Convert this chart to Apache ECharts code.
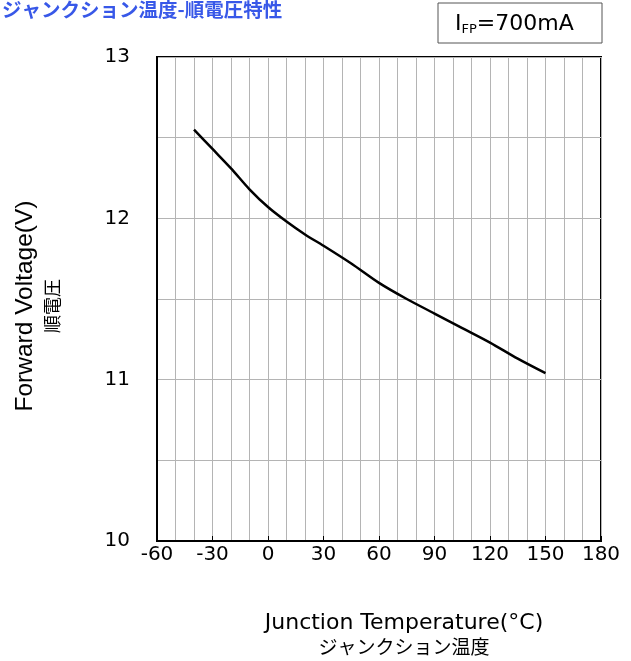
<!DOCTYPE html>
<html><head><meta charset="utf-8">
<script src="https://cdn.jsdelivr.net/npm/echarts@6/dist/echarts.min.js"></script>
<style>html,body{margin:0;padding:0;background:#fff}#c{width:631px;height:661px}</style>
</head><body><div id="c"></div>
<script>
const temps = [-40, -30, -20, -10, 0, 10, 20, 30, 45, 60, 75, 90, 105, 120, 135, 150];
const voltages = [12.55, 12.43, 12.31, 12.18, 12.07, 11.98, 11.90, 11.83, 11.72, 11.60, 11.50, 11.41, 11.32, 11.23, 11.13, 11.04];
const xTicks = [-60, -30, 0, 30, 60, 90, 120, 150, 180];
const yTicks = [10, 11, 12, 13];
const titleText = 'ジャンクション温度-順電圧特性';
const conditionText = '{i|I}{s|FP}{i|=700mA}';

const chart = echarts.init(document.getElementById('c'));
const grid = '#b4b4b4';
chart.setOption({
  animation: false,
  title: [
    { text: titleText, left: -3, top: -5,
      textStyle: { color: '#3858e8', fontSize: 19.5, fontWeight: 'bold', fontFamily: 'Noto Sans CJK JP' } },
    { text: conditionText, left: 455, top: 13, padding: 0,
      textStyle: { fontWeight: 'normal', rich: {
        i: { fontFamily: 'DejaVu Sans', fontSize: 22, fontWeight: 'normal', color: '#000' },
        s: { fontFamily: 'DejaVu Sans', fontSize: 13, fontWeight: 'normal', color: '#000', verticalAlign: 'bottom', padding: [10, 0, 0, 0] }
      } } }
  ],
  graphic: [{ type: 'rect', shape: { x: 438, y: 3, width: 164, height: 40 },
    style: { fill: 'none', stroke: '#555', lineWidth: 1 }, z: 10 }],
  grid: { left: 157, right: 30, top: 57, bottom: 120, outerBoundsMode: 'none', containLabel: false,
    show: true, borderColor: '#000', borderWidth: 2, backgroundColor: 'transparent' },
  xAxis: {
    type: 'value', min: xTicks[0], max: xTicks[xTicks.length - 1], interval: 30,
    name: '{a|Junction Temperature(°C)}\n{b|ジャンクション温度}',
    nameLocation: 'middle', nameGap: 70,
    nameTextStyle: { padding: [0, 0, 0, 50], lineHeight: 24, rich: {
      a: { fontFamily: 'DejaVu Sans', fontSize: 22, color: '#000', lineHeight: 24 },
      b: { fontFamily: 'Noto Sans CJK JP', fontSize: 19, color: '#000', lineHeight: 24 } } },
    axisLine: { show: true, onZero: false, lineStyle: { color: '#000', width: 2 } },
    axisTick: { show: true, inside: true, length: 5, lineStyle: { color: '#000', width: 1 } },
    axisLabel: { fontFamily: 'DejaVu Sans', fontSize: 20, color: '#000', margin: 4 },
    splitLine: { show: true, lineStyle: { color: grid, width: 1 } },
    minorTick: { show: false, splitNumber: 3 },
    minorSplitLine: { show: true, lineStyle: { color: grid, width: 1 } }
  },
  yAxis: {
    type: 'value', min: yTicks[0], max: yTicks[yTicks.length - 1], interval: 1,
    name: '{a|Forward Voltage(V)}\n{b|順電圧}',
    nameLocation: 'middle', nameGap: 91, nameRotate: 90,
    nameTextStyle: { lineHeight: 27, padding: [0, 14, 0, 0], rich: {
      a: { fontFamily: 'Liberation Sans', fontSize: 24.5, color: '#000', lineHeight: 27 },
      b: { fontFamily: 'Noto Sans CJK JP', fontSize: 18, color: '#000', lineHeight: 27 } } },
    axisLine: { show: true, onZero: false, lineStyle: { color: '#000', width: 2 } },
    axisTick: { show: false },
    axisLabel: { fontFamily: 'DejaVu Sans', fontSize: 20, color: '#000', margin: 27 },
    splitLine: { show: true, lineStyle: { color: grid, width: 1 } },
    minorTick: { show: false, splitNumber: 2 },
    minorSplitLine: { show: true, lineStyle: { color: grid, width: 1 } }
  },
  series: [{
    type: 'line', data: temps.map((t, i) => [t, voltages[i]]),
    showSymbol: false, smooth: 0.3, lineStyle: { color: '#000', width: 2.5 }, z: 5
  }]
});
</script></body></html>
